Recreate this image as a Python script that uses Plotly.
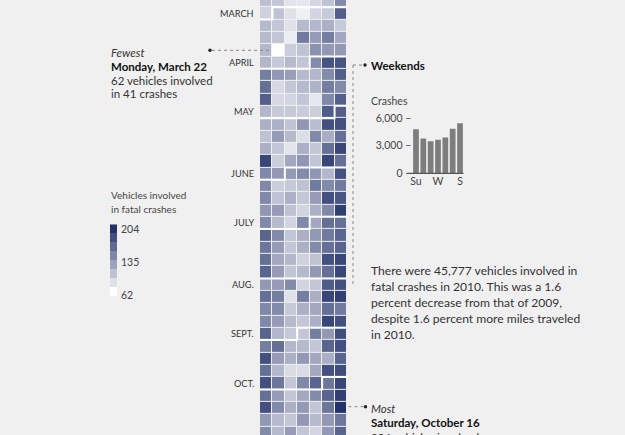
import numpy as np
import pandas as pd
import plotly.graph_objects as go

# ---------------- data (vehicles involved in fatal crashes per day, 2010) ----------------
feb_tail = [105, 100, 80, 78, 90, 102, 140, 92]  # Feb 21 - Feb 28
mar = [103, 82, 72, 90, 97, 172,
       108, 100, 82, 108, 110, 115, 97,
       108, 101, 74, 152, 128, 150, 120,
       108, 62, 96, 103, 135, 130, 130,
       110, 98, 108, 101]
apr = [140, 180, 180,
       150, 130, 127, 108, 110, 140, 172,
       160, 88, 100, 108, 113, 150, 140,
       172, 88, 90, 101, 78, 142, 172,
       110, 98, 98, 96, 95, 174]
may = [172,
       115, 115, 102, 132, 106, 182, 182,
       103, 128, 108, 84, 142, 116, 160,
       115, 100, 80, 115, 100, 160, 190,
       190, 95, 120, 132, 101, 190, 160,
       142, 130]
jun = [130, 140, 132, 110, 182,
       142, 95, 98, 103, 152, 140, 152,
       142, 103, 115, 100, 128, 182, 178,
       132, 128, 103, 90, 115, 142, 195,
       142, 108, 90, 142]
jul = [120, 160, 160,
       168, 140, 101, 115, 130, 152, 168,
       155, 128, 100, 115, 140, 160, 168,
       160, 120, 110, 92, 103, 182, 190,
       168, 128, 101, 108, 130, 160, 190]
aug = [130, 128, 140, 90, 101, 174, 182,
       160, 150, 82, 150, 115, 190, 195,
       142, 140, 98, 115, 120, 160, 152,
       142, 128, 108, 100, 115, 190, 182,
       168, 110, 98]
sep = [100, 150, 130, 185,
       150, 160, 110, 108, 100, 168, 182,
       182, 128, 115, 130, 120, 115, 168,
       160, 110, 86, 86, 120, 182, 185,
       182, 155, 100, 142, 168]
oct_head = [155, 190,
            160, 128, 101, 120, 140, 168, 195,
            182, 140, 115, 130, 101, 155, 204,
            130, 108, 100, 130, 108, 130, 155,
            140, 108, 128, 100, 90, 130, 168]  # Oct 1 - Oct 30

month_labels = ["MARCH", "APRIL", "MAY", "JUNE", "JULY", "AUG.", "SEPT.", "OCT."]
month_numbers = [3, 4, 5, 6, 7, 8, 9, 10]

weekday_labels = ["Su", "M", "T", "W", "Th", "F", "S"]
weekday_crashes = [4800, 3800, 3500, 3650, 3900, 4850, 5450]
axis_ticks = [0, 3000, 6000]
axis_ticktext = ["0 \u2013", "3,000 \u2013", "6,000 \u2013"]

legend_min, legend_mid, legend_max = 62, 135, 204

paragraph = [
    "There were 45,777 vehicles involved in",
    "fatal crashes in 2010. This was a 1.6",
    "percent decrease from that of 2009,",
    "despite 1.6 percent more miles traveled",
    "in 2010.",
]

# ---------------- layout helpers ----------------
W, H = 625, 435
FONT = "Lato, 'Open Sans', sans-serif"
BG = "#f0f0f0"


def px(x):
    return x / W


def py(y):
    return 1 - y / H


colorscale = [[0.0, "#ffffff"], [0.5, "#8e95b2"], [1.0, "#23336a"]]

values = feb_tail + mar + apr + may + jun + jul + aug + sep + oct_head
days = pd.date_range("2010-02-21", periods=len(values), freq="D")
start = days[0]
rows = np.asarray((days - start).days // 7)
cols = np.asarray((days.dayofweek + 1) % 7)
nrows = rows.max() + 1
z = np.full((nrows, 7), np.nan)
z[rows, cols] = values

fig = go.Figure()

fig.add_trace(go.Heatmap(
    z=z, x=list(range(7)), y=list(range(nrows)),
    colorscale=colorscale, zmin=legend_min, zmax=legend_max,
    showscale=False, xgap=1, ygap=1, hoverinfo="skip",
    xaxis="x", yaxis="y",
))

# month boundaries (white step lines)
for m in month_numbers:
    d = pd.Timestamp(2010, m, 1)
    r = (d - start).days // 7
    c = (d.dayofweek + 1) % 7
    if c == 0:
        xs, ys = [-0.5, 6.5], [r - 0.5, r - 0.5]
    else:
        xs = [-0.5, c - 0.5, c - 0.5, 6.5]
        ys = [r + 0.5, r + 0.5, r - 0.5, r - 0.5]
    fig.add_trace(go.Scatter(x=xs, y=ys, mode="lines",
                             line=dict(color="#ffffff", width=2),
                             hoverinfo="skip", showlegend=False,
                             xaxis="x", yaxis="y"))

# legend (stepped colour bar)
legend_levels = np.linspace(legend_min, legend_max, 8)
fig.add_trace(go.Heatmap(
    z=[[v] for v in legend_levels], x=[0], y=list(range(8)),
    colorscale=colorscale, zmin=legend_min, zmax=legend_max,
    showscale=False, hoverinfo="skip", xaxis="x2", yaxis="y2",
))

# weekday bar chart
fig.add_trace(go.Bar(
    x=list(range(7)), y=weekday_crashes, width=0.78,
    marker=dict(color="#7d7d7d", line=dict(width=0)),
    hoverinfo="skip", xaxis="x3", yaxis="y3",
))

row_top = -0.081
row_bottom = 35.198

fig.update_layout(
    template="none",
    width=W, height=H, autosize=False,
    margin=dict(l=0, r=0, t=0, b=0, pad=0, autoexpand=False),
    paper_bgcolor=BG, plot_bgcolor=BG,
    showlegend=False,
    font=dict(family=FONT, color="#333333"),
    xaxis=dict(domain=[px(260), px(347)], range=[-0.5, 6.5], visible=False,
               fixedrange=True, automargin=False),
    yaxis=dict(domain=[0, 1], range=[row_bottom, row_top], visible=False,
               fixedrange=True, automargin=False),
    xaxis2=dict(domain=[px(110), px(117)], range=[-0.5, 0.5], visible=False,
                anchor="y2", automargin=False),
    yaxis2=dict(domain=[py(296.7), py(224.3)], range=[-0.5, 7.5], visible=False,
                anchor="x2", automargin=False),
    xaxis3=dict(domain=[px(412.3), px(463.7)], range=[-0.5, 6.5], anchor="y3",
                tickvals=[0, 3, 6], ticktext=[weekday_labels[0], weekday_labels[3], weekday_labels[6]],
                showgrid=False, zeroline=False, showline=False, ticks="", automargin=False,
                tickfont=dict(size=10.5, color="#444444", family=FONT)),
    yaxis3=dict(domain=[py(173.3), py(118.3)], range=[0, 6000], anchor="x3",
                tickvals=axis_ticks, ticktext=axis_ticktext,
                showgrid=False, zeroline=False, showline=False, ticks="", automargin=False,
                ticklabelstandoff=0,
                tickfont=dict(size=10.5, color="#444444", family=FONT)),
)

annotations = []
PAD = 2.5  # annotation box padding


def txt(x, y, text, size=11.5, color="#333333", xanchor="left"):
    xx = x - PAD if xanchor == "left" else x + PAD
    annotations.append(dict(
        x=px(xx), y=py(y), xref="paper", yref="paper",
        text=text, showarrow=False, xanchor=xanchor, yanchor="middle",
        font=dict(size=size, color=color, family=FONT),
    ))


# month labels
for name, m in zip(month_labels, month_numbers):
    d = pd.Timestamp(2010, m, 1)
    r = (d - start).days // 7
    annotations.append(dict(
        x=px(253.5 + PAD), y=r, xref="paper", yref="y", text=name, showarrow=False,
        xanchor="right", yanchor="middle", font=dict(size=9.2, color="#333333", family=FONT),
    ))

# fewest
txt(111, 52.7, "<i>Fewest</i>", 11.5, "#333333")
txt(111, 66.2, "<b>Monday, March 22</b>", 11.5, "#111111")
txt(111, 80, "62 vehicles involved", 11.5, "#333333")
txt(111, 93.6, "in 41 crashes", 11.5, "#333333")

# legend
txt(111, 195, "Vehicles involved", 10, "#444444")
txt(111, 209, "in fatal crashes", 10, "#444444")
txt(121, 229, str(legend_max), 10.5, "#444444")
txt(121, 262, str(legend_mid), 10.5, "#444444")
txt(121, 294.5, str(legend_min), 10.5, "#444444")

# weekends
txt(372, 65, "<b>Weekends</b>", 11.5, "#111111")
txt(372, 101, "Crashes", 10.5, "#444444")

# paragraph
for i, line in enumerate(paragraph):
    txt(372, 270.6 + i * 16, line, 12.1, "#333333")

# most
txt(372, 408.3, "<i>Most</i>", 11.5, "#333333")
txt(372, 422.5, "<b>Saturday, October 16</b>", 11.5, "#111111")
txt(372, 437, "204 vehicles involved", 11.5, "#333333")

fig.update_layout(annotations=annotations)

# leader lines and dots
min_idx = int(np.argmin(values))
max_idx = int(np.argmax(values))
r_min = rows[min_idx]
r_max = rows[max_idx]
dot = dict(color="#888888", width=1, dash="dot")
shapes = [
    dict(type="line", xref="paper", yref="y", x0=px(212), x1=px(272), y0=r_min, y1=r_min, line=dot),
    dict(type="circle", xref="paper", yref="y", x0=px(208.3), x1=px(211.7),
         y0=r_min - 0.14, y1=r_min + 0.14, fillcolor="#222222", line=dict(width=0)),
    dict(type="line", xref="paper", yref="y", x0=px(348.5), x1=px(364), y0=r_max - 0.1, y1=r_max - 0.1, line=dot),
    dict(type="circle", xref="paper", yref="y", x0=px(363.8), x1=px(367.2),
         y0=r_max - 0.24, y1=r_max + 0.04, fillcolor="#222222", line=dict(width=0)),
    dict(type="line", xref="paper", yref="paper", x0=px(353), x1=px(363), y0=py(65), y1=py(65), line=dot),
    dict(type="line", xref="paper", yref="paper", x0=px(353), x1=px(353), y0=py(65), y1=py(286), line=dot),
    dict(type="circle", xref="paper", yref="paper", x0=px(363.3), x1=px(366.7),
         y0=py(66.7), y1=py(63.3), fillcolor="#222222", line=dict(width=0)),
    # bar chart baseline
    dict(type="line", xref="paper", yref="paper", x0=px(407), x1=px(463.5),
         y0=py(173.3), y1=py(173.3), line=dict(color="#555555", width=1.2)),
]
fig.update_layout(shapes=shapes)

fig.write_html("out.html")
